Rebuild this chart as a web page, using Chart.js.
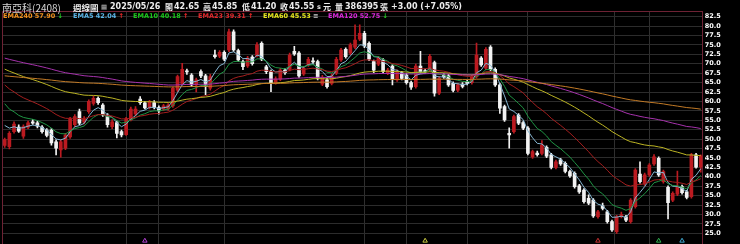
<!DOCTYPE html>
<html lang="zh-Hant">
<head>
<meta charset="utf-8">
<title>南亞科(2408) 週線圖</title>
<script src="https://cdn.jsdelivr.net/npm/chart.js@4.4.0/dist/chart.umd.js"></script>
<style>
  html, body { margin: 0; padding: 0; background: #000; overflow: hidden; }
  #wrap { position: relative; width: 740px; height: 244px; }
  #kline { position: absolute; left: 0; top: 0; }
  .t { position: absolute; white-space: nowrap; line-height: 1; color: #ececec; }
  .n { top: 1.5px; font: bold 8px "DejaVu Sans", sans-serif; }
  .c { top: 1px; font: bold 8px "Noto Sans CJK TC", sans-serif; }
  .lg { top: 12px; font: bold 6.5px "DejaVu Sans", sans-serif; }
  .up { color: #ff2a2a; }
  .dn { color: #22d022; }
</style>
</head>
<body>
<div id="wrap">
  <canvas id="kline" width="740" height="244"></canvas>

  <span class="t" style="left:2px;top:0;font:10px 'Noto Sans CJK TC',sans-serif;color:#d4d4d4">南亞科(2408)</span>
  <span class="t c" style="left:73px;font-size:8.5px">週線圖</span>
  <span class="t n" style="left:101px;color:#bbb;font-size:6.5px;top:2.5px">▦</span>
  <span class="t n" style="left:110px">2025/05/26</span>
  <span class="t c" style="left:165px">開</span><span class="t n" style="left:174px">42.65</span>
  <span class="t c" style="left:203px">高</span><span class="t n" style="left:212px">45.85</span>
  <span class="t c" style="left:242px">低</span><span class="t n" style="left:251px">41.20</span>
  <span class="t c" style="left:280px">收</span><span class="t n" style="left:289px">45.55</span>
  <span class="t n" style="left:317px;font-size:6.5px;top:3px">s</span><span class="t c" style="left:323px">元</span>
  <span class="t c" style="left:335px">量</span><span class="t n" style="left:345px">386395</span>
  <span class="t c" style="left:380px">張</span>
  <span class="t n" style="left:391px">+3.00 (+7.05%)</span>

  <span class="t lg" style="left:3px;color:#f0901e">EMA240 57.90 <span class="dn">↓</span></span>
  <span class="t lg" style="left:73px;color:#5ab4e6">EMA5 42.04 <span class="up">↑</span></span>
  <span class="t lg" style="left:133px;color:#1cc81c">EMA10 40.18 <span class="up">↑</span></span>
  <span class="t lg" style="left:198px;color:#e0282c">EMA23 39.31 <span class="up">↑</span></span>
  <span class="t lg" style="left:263px;color:#e6e61e">EMA60 45.53 <span style="color:#ccc">≡</span></span>
  <span class="t lg" style="left:328px;color:#d828d8">EMA120 52.75 <span class="dn">↓</span></span>
</div>

<script>
// weekly candles, oldest first (150 weeks up to 2025/05/26)
const opens = [
  48.3, 48, 52, 53.2, 50.8, 53.2, 54.6, 54.3, 53.2, 52.4,
  52.4, 49.3, 47.1, 47.6, 50.6, 53.8, 57.3, 54.5, 57.3, 59.5,
  60.8, 59, 56.4, 53.3, 54.4, 52, 51.2, 55.1, 56.7, 60.6,
  59.6, 58.4, 59.7, 58.4, 58, 58, 58.8, 63, 64.8, 68.1,
  67, 64.4, 67.9, 66.8, 63.5, 72.3, 72, 73, 73.7, 78.5,
  73.5, 70.6, 69.4, 71.8, 72.1, 75.4, 69.2, 67.9, 65, 65.9,
  68.3, 68.5, 73.3, 72.8, 67.3, 69.7, 70.8, 70.6, 64.6, 65.7,
  64.8, 67.5, 71, 73.8, 72.8, 74.4, 76.5, 78.1, 75.4, 70.6,
  69.9, 71, 67.5, 69.4, 65.7, 67.6, 67, 65, 63.9, 69.4,
  68.2, 68.5, 70.3, 62.2, 67, 66.8, 64.8, 63, 64.6, 65.2,
  65, 66.6, 71.5, 68.8, 74.4, 68.5, 64.4, 58.6, 51.5, 52,
  56.4, 54.4, 52.9, 45.3, 46.3, 46.2, 47.8, 45.8, 42.5, 44.5,
  43.6, 41.4, 40.9, 37.6, 36.5, 34.3, 33.8, 29.4, 32.3, 30.7,
  28.1, 25.4, 29.5, 29.4, 28.1, 32.1, 40.7, 38.1, 40.5, 43.4,
  44.9, 38.7, 37.2, 33.8, 35.4, 37.4, 36, 34.7, 45.8, 42.65
];
const highs = [
  50.3, 52, 54.6, 53.8, 53.8, 54.8, 55.2, 54.8, 53.6, 52.8,
  52.8, 49.8, 49.8, 51.5, 55.8, 56.5, 58, 56, 60.4, 61.4,
  61.2, 59.4, 56.8, 55.2, 54.8, 52.4, 55.8, 58.5, 58.6, 61.3,
  60, 60.3, 60.2, 58.8, 59.2, 59.4, 63.9, 67, 70.1, 68.6,
  67.4, 66.2, 68.4, 67.2, 67.2, 73.6, 73.5, 73.4, 79.2, 79,
  73.9, 71, 72, 72.2, 75.6, 75.8, 69.6, 68.3, 66.5, 68.8,
  68.7, 72.8, 74.6, 73.2, 69.3, 71.7, 71.6, 71, 66.9, 66.1,
  67.3, 71.7, 74.1, 74.2, 75.5, 80.3, 80.3, 78.6, 75.8, 71,
  72, 71.4, 68.8, 69.8, 68.4, 68, 67.4, 65.4, 69.9, 73.3,
  68.6, 72.5, 70.7, 66.6, 67.4, 67.2, 65.2, 64.8, 65, 65.6,
  67, 75.5, 71.9, 74.3, 74.8, 68.9, 64.8, 59, 53, 56.4,
  56.8, 54.8, 53.3, 47.1, 46.8, 49.6, 48.2, 46.2, 44.4, 44.9,
  44, 41.8, 41.3, 38, 36.9, 35.2, 34.2, 31.1, 33, 31.1,
  28.5, 29.8, 30.6, 29.8, 34.2, 42.2, 44, 41, 43.5, 45.9,
  45.3, 41.8, 37.6, 36, 41.5, 37.8, 36.4, 46.2, 46.2, 45.85
];
const lows = [
  47.8, 47.4, 51.6, 51.8, 50.2, 52.8, 53.9, 53, 51.6, 50.6,
  48.4, 45.8, 45.2, 47.2, 50.2, 53.3, 53.8, 54, 56.8, 59,
  59.2, 56, 53.2, 52.8, 50.3, 50.6, 51, 54.8, 56.2, 59.2,
  58, 58, 58, 56.6, 57.6, 57.6, 58.4, 62.6, 64.4, 67.2,
  64, 62.5, 66.3, 61.8, 63, 71.5, 71.6, 70.8, 73.2, 73.3,
  70.6, 68.4, 69, 69.6, 71.8, 70.8, 67.4, 62.6, 64.6, 65.5,
  67.2, 68.1, 72.2, 66.4, 66.9, 69.3, 70.1, 65.7, 64.2, 63.5,
  64.4, 67.1, 70.6, 71.5, 72.4, 74, 76.1, 74.3, 70.8, 67.6,
  69.5, 67.5, 67.1, 64.4, 65.3, 65.7, 64.6, 63.2, 63.5, 67.5,
  67.5, 68.1, 61.4, 61.8, 66.1, 64, 62.5, 62.6, 63.6, 64.4,
  64.6, 66.2, 69.3, 68.4, 68.1, 64, 56.8, 54.7, 47.6, 51.6,
  53.8, 52.5, 45.8, 44.9, 45.5, 45.8, 45.1, 42.1, 42.1, 43,
  41, 39.8, 37, 35.6, 33, 32.6, 29.2, 29, 31.2, 27.7,
  25.5, 25, 29.1, 28.1, 27.7, 31.7, 38.3, 37.7, 40.1, 43,
  40.1, 38.3, 28.8, 33.4, 35, 35.4, 34.1, 34.3, 42.3, 41.2
];
const closes = [
  49.9, 51.5, 54, 52.1, 53.3, 54.3, 54.2, 53.4, 52, 51,
  49, 47.6, 49.3, 51.1, 55.3, 56, 54.2, 55.3, 60, 60.8,
  59.7, 56.4, 53.8, 54.6, 51.5, 51.1, 55.4, 58, 58, 59.7,
  58.3, 59.9, 58.4, 57.5, 58.8, 59, 63.5, 66.6, 68.5, 67.8,
  64.4, 65.7, 66.8, 63.9, 66.6, 71.9, 73, 71.2, 78.5, 73.7,
  71, 69.2, 71.5, 70, 75, 71.2, 67.9, 65, 66, 68.3,
  67.6, 72.3, 72.6, 66.8, 68.8, 71.2, 70.5, 66.1, 66.4, 63.9,
  66.8, 71.2, 73.6, 71.9, 75, 76.3, 78.1, 74.7, 71.2, 68.3,
  71.5, 67.9, 68.3, 65.9, 67.9, 66.1, 65, 63.8, 69.4, 67.9,
  67.9, 72, 62.2, 66.1, 66.5, 64.4, 62.9, 64.4, 64, 64.8,
  66.6, 72.3, 69.7, 73.8, 68.5, 64.4, 58.2, 55.1, 51.1, 56,
  54.2, 52.9, 46.2, 46.7, 45.9, 48.4, 45.5, 42.5, 44, 43.4,
  41.4, 40.2, 37.4, 36, 33.4, 33, 29.6, 30.7, 31.6, 28.1,
  25.9, 29.4, 30, 28.5, 33.8, 41.8, 38.7, 40.5, 43.1, 45.3,
  40.5, 41.4, 33.1, 35.6, 37.2, 35.8, 34.5, 45.8, 42.55, 45.55
];

// moving averages
const ema5 = [
  53.63, 52.92, 53.28, 52.89, 53.03, 53.45, 53.70, 53.60, 53.07, 52.38,
  51.25, 50.03, 49.79, 50.23, 51.92, 53.28, 53.59, 54.16, 56.11, 57.67,
  58.35, 57.70, 56.40, 55.80, 54.37, 53.28, 53.99, 55.33, 56.22, 57.38,
  57.69, 58.43, 58.42, 58.11, 58.34, 58.56, 60.21, 62.34, 64.39, 65.53,
  65.15, 65.33, 65.82, 65.18, 65.65, 67.73, 69.49, 70.06, 72.87, 73.15,
  72.43, 71.35, 71.40, 70.93, 72.29, 71.93, 70.58, 68.72, 67.81, 67.97,
  67.85, 69.33, 70.42, 69.21, 69.07, 69.78, 70.02, 68.71, 67.94, 66.59,
  66.66, 68.17, 69.98, 70.62, 72.08, 73.49, 75.03, 74.92, 73.68, 71.89,
  71.76, 70.47, 69.75, 68.47, 68.28, 67.55, 66.70, 65.73, 66.95, 67.27,
  67.48, 68.99, 66.73, 66.52, 66.51, 65.81, 64.84, 64.69, 64.46, 64.57,
  65.25, 67.60, 68.30, 70.13, 69.59, 67.86, 64.64, 61.46, 58.01, 57.34,
  56.29, 55.16, 52.17, 50.35, 48.87, 48.71, 47.64, 45.93, 45.29, 44.66,
  43.57, 42.45, 40.77, 39.18, 37.25, 35.83, 33.75, 32.73, 32.35, 30.93,
  29.25, 29.30, 29.53, 29.19, 30.73, 34.42, 35.85, 37.40, 39.30, 41.30,
  41.03, 41.15, 38.47, 37.51, 37.41, 36.87, 36.08, 39.32, 40.40, 42.12
];
const ema10 = [
  59.39, 57.96, 57.24, 56.31, 55.76, 55.49, 55.26, 54.92, 54.39, 53.77,
  52.90, 51.94, 51.46, 51.39, 52.10, 52.81, 53.06, 53.47, 54.66, 55.78,
  56.49, 56.47, 55.99, 55.74, 54.97, 54.27, 54.47, 55.11, 55.64, 56.38,
  56.73, 57.30, 57.50, 57.50, 57.74, 57.97, 58.98, 60.36, 61.84, 62.92,
  63.19, 63.65, 64.22, 64.16, 64.61, 65.93, 67.22, 67.94, 69.86, 70.56,
  70.64, 70.38, 70.58, 70.48, 71.30, 71.28, 70.67, 69.64, 68.98, 68.85,
  68.63, 69.29, 69.90, 69.33, 69.24, 69.59, 69.76, 69.09, 68.60, 67.75,
  67.57, 68.23, 69.21, 69.70, 70.66, 71.69, 72.85, 73.19, 72.83, 72.00,
  71.91, 71.18, 70.66, 69.79, 69.45, 68.84, 68.14, 67.35, 67.72, 67.76,
  67.78, 68.55, 67.40, 67.16, 67.04, 66.56, 65.90, 65.62, 65.33, 65.23,
  65.48, 66.72, 67.26, 68.45, 68.46, 67.72, 65.99, 64.01, 61.66, 60.63,
  59.46, 58.27, 56.08, 54.37, 52.83, 52.02, 50.84, 49.32, 48.35, 47.45,
  46.35, 45.23, 43.81, 42.39, 40.76, 39.35, 37.58, 36.33, 35.47, 34.13,
  32.63, 32.04, 31.67, 31.09, 31.58, 33.44, 34.40, 35.51, 36.89, 38.42,
  38.80, 39.27, 38.15, 37.69, 37.60, 37.27, 36.77, 38.41, 39.16, 40.32
];
const ema23 = [
  64.38, 63.31, 62.53, 61.66, 60.96, 60.41, 59.89, 59.35, 58.74, 58.09,
  57.34, 56.53, 55.92, 55.52, 55.50, 55.54, 55.43, 55.42, 55.80, 56.22,
  56.51, 56.50, 56.28, 56.14, 55.75, 55.36, 55.37, 55.59, 55.79, 56.11,
  56.30, 56.60, 56.75, 56.81, 56.98, 57.15, 57.67, 58.42, 59.26, 59.97,
  60.34, 60.78, 61.28, 61.50, 61.93, 62.76, 63.61, 64.24, 65.43, 66.12,
  66.52, 66.75, 67.14, 67.38, 68.02, 68.28, 68.25, 67.98, 67.81, 67.85,
  67.83, 68.20, 68.57, 68.42, 68.45, 68.68, 68.83, 68.61, 68.42, 68.05,
  67.94, 68.21, 68.66, 68.93, 69.44, 70.01, 70.68, 71.02, 71.03, 70.80,
  70.86, 70.61, 70.42, 70.04, 69.86, 69.55, 69.17, 68.72, 68.78, 68.71,
  68.64, 68.92, 68.36, 68.17, 68.03, 67.73, 67.33, 67.08, 66.83, 66.66,
  66.65, 67.12, 67.34, 67.88, 67.93, 67.63, 66.85, 65.87, 64.64, 63.92,
  63.11, 62.26, 60.92, 59.74, 58.59, 57.74, 56.72, 55.53, 54.57, 53.64,
  52.62, 51.58, 50.40, 49.20, 47.89, 46.65, 45.23, 44.02, 42.98, 41.74,
  40.42, 39.50, 38.71, 37.86, 37.52, 37.88, 37.95, 38.16, 38.57, 39.13,
  39.24, 39.42, 38.90, 38.62, 38.50, 38.28, 37.96, 38.61, 38.94, 39.49
];
const ema60 = [
  68.57, 68.01, 67.55, 67.04, 66.59, 66.19, 65.80, 65.39, 64.95, 64.49,
  63.98, 63.45, 62.98, 62.59, 62.35, 62.15, 61.89, 61.67, 61.62, 61.59,
  61.53, 61.36, 61.11, 60.90, 60.59, 60.28, 60.12, 60.05, 59.98, 59.97,
  59.92, 59.92, 59.87, 59.79, 59.76, 59.73, 59.86, 60.08, 60.35, 60.60,
  60.72, 60.89, 61.08, 61.17, 61.35, 61.70, 62.07, 62.37, 62.90, 63.25,
  63.50, 63.69, 63.95, 64.15, 64.50, 64.72, 64.83, 64.83, 64.87, 64.98,
  65.07, 65.30, 65.54, 65.59, 65.69, 65.87, 66.02, 66.03, 66.04, 65.97,
  66.00, 66.17, 66.41, 66.59, 66.87, 67.18, 67.54, 67.77, 67.88, 67.90,
  68.02, 68.02, 68.02, 67.95, 67.95, 67.89, 67.80, 67.67, 67.72, 67.73,
  67.74, 67.88, 67.69, 67.64, 67.60, 67.50, 67.35, 67.25, 67.14, 67.07,
  67.05, 67.22, 67.30, 67.52, 67.55, 67.45, 67.14, 66.75, 66.23, 65.90,
  65.51, 65.10, 64.48, 63.90, 63.31, 62.82, 62.25, 61.60, 61.03, 60.45,
  59.83, 59.18, 58.47, 57.73, 56.93, 56.15, 55.28, 54.47, 53.72, 52.88,
  52.00, 51.26, 50.56, 49.84, 49.31, 49.06, 48.72, 48.45, 48.28, 48.18,
  47.93, 47.71, 47.23, 46.85, 46.54, 46.18, 45.80, 45.80, 45.69, 45.60
];
const ema120 = [
  71.49, 71.16, 70.87, 70.56, 70.28, 70.01, 69.75, 69.48, 69.19, 68.89,
  68.56, 68.22, 67.90, 67.62, 67.42, 67.23, 67.02, 66.82, 66.71, 66.61,
  66.50, 66.33, 66.12, 65.93, 65.69, 65.45, 65.29, 65.17, 65.05, 64.96,
  64.85, 64.77, 64.66, 64.55, 64.45, 64.36, 64.35, 64.39, 64.45, 64.51,
  64.51, 64.53, 64.57, 64.55, 64.59, 64.71, 64.85, 64.95, 65.18, 65.32,
  65.41, 65.47, 65.57, 65.65, 65.80, 65.89, 65.92, 65.91, 65.91, 65.95,
  65.98, 66.08, 66.19, 66.20, 66.24, 66.32, 66.39, 66.39, 66.39, 66.35,
  66.36, 66.44, 66.56, 66.65, 66.78, 66.94, 67.12, 67.25, 67.31, 67.33,
  67.40, 67.41, 67.42, 67.40, 67.40, 67.38, 67.34, 67.28, 67.32, 67.33,
  67.34, 67.41, 67.33, 67.31, 67.30, 67.25, 67.18, 67.13, 67.08, 67.04,
  67.03, 67.12, 67.16, 67.27, 67.29, 67.24, 67.09, 66.90, 66.63, 66.46,
  66.26, 66.04, 65.71, 65.39, 65.07, 64.80, 64.48, 64.11, 63.78, 63.44,
  63.08, 62.70, 62.28, 61.85, 61.38, 60.91, 60.39, 59.90, 59.43, 58.91,
  58.37, 57.89, 57.43, 56.95, 56.57, 56.32, 56.03, 55.78, 55.57, 55.40,
  55.15, 54.92, 54.56, 54.25, 53.97, 53.67, 53.35, 53.23, 53.05, 52.80
];
const ema240 = [
  66.80, 66.67, 66.57, 66.45, 66.34, 66.24, 66.14, 66.03, 65.92, 65.79,
  65.66, 65.51, 65.37, 65.25, 65.17, 65.09, 65.00, 64.92, 64.88, 64.85,
  64.80, 64.73, 64.64, 64.56, 64.45, 64.34, 64.27, 64.21, 64.16, 64.12,
  64.08, 64.04, 63.99, 63.94, 63.90, 63.86, 63.85, 63.88, 63.91, 63.95,
  63.95, 63.97, 63.99, 63.99, 64.01, 64.08, 64.15, 64.21, 64.33, 64.41,
  64.46, 64.50, 64.56, 64.60, 64.69, 64.74, 64.77, 64.77, 64.78, 64.81,
  64.83, 64.90, 64.96, 64.97, 65.01, 65.06, 65.10, 65.11, 65.12, 65.11,
  65.13, 65.18, 65.25, 65.30, 65.38, 65.47, 65.58, 65.65, 65.70, 65.72,
  65.77, 65.79, 65.81, 65.81, 65.83, 65.83, 65.82, 65.81, 65.84, 65.85,
  65.87, 65.92, 65.89, 65.89, 65.90, 65.89, 65.86, 65.85, 65.84, 65.83,
  65.83, 65.89, 65.92, 65.98, 66.00, 65.99, 65.93, 65.84, 65.71, 65.63,
  65.54, 65.43, 65.27, 65.12, 64.96, 64.82, 64.66, 64.48, 64.31, 64.13,
  63.95, 63.75, 63.53, 63.30, 63.05, 62.80, 62.53, 62.26, 62.01, 61.73,
  61.43, 61.17, 60.91, 60.64, 60.42, 60.26, 60.08, 59.92, 59.78, 59.66,
  59.50, 59.35, 59.13, 58.94, 58.76, 58.57, 58.37, 58.26, 58.13, 57.95
];

// price axis ticks
const yTicks = [25, 27.5, 30, 32.5, 35, 37.5, 40, 42.5, 45, 47.5, 50, 52.5, 55,
  57.5, 60, 62.5, 65, 67.5, 70, 72.5, 75, 77.5, 80, 82.5];
const yTickLabels = ['25.0', '27.5', '30.0', '32.5', '35.0', '37.5', '40.0', '42.5',
  '45.0', '47.5', '50.0', '52.5', '55.0', '57.5', '60.0', '62.5', '65.0', '67.5',
  '70.0', '72.5', '75.0', '77.5', '80.0', '82.5'];
// weeks where the vertical grid lines sit
const gridWeeks = [26, 33, 47, 77, 86, 99, 112, 130.5, 138];
// signal marks along the bottom
const markWeeks = [30, 90, 127, 140, 145];
const markColors = ['#b040d0', '#c8c840', '#c83030', '#30b050', '#40a8d0'];
const markLevel = 23;

const UP = '#bb1a20', DOWN = '#f2f2f2';
const candleColors = closes.map((c, i) => c >= opens[i] ? UP : DOWN);

const bodies = closes.map((c, i) => ({x: i, y: [opens[i], c]}));
const wicks = closes.map((c, i) => ({x: i, y: [lows[i], highs[i]]}));
const pts = arr => arr.map((v, i) => ({x: i, y: v}));

const emaLine = (label, arr, color) => ({
    type: 'line', label, data: pts(arr), borderColor: color, borderWidth: 1,
    pointRadius: 0, tension: 0, fill: false, order: 1
});

const frame = {
    id: 'frame',
    afterDraw(chart) {
        const {ctx, chartArea: a} = chart;
        ctx.save();
        ctx.strokeStyle = '#6e2234';
        ctx.lineWidth = 1;
        ctx.beginPath();
        ctx.moveTo(a.left + 0.5, a.bottom);
        ctx.lineTo(a.left + 0.5, a.top + 0.5);
        ctx.lineTo(a.right, a.top + 0.5);
        ctx.stroke();
        ctx.restore();
    }
};

new Chart(document.getElementById('kline'), {
    type: 'bar',
    data: {
        datasets: [
            emaLine('EMA240', ema240, '#c27a26'),
            emaLine('EMA120', ema120, '#a632ac'),
            emaLine('EMA60', ema60, '#bcb424'),
            emaLine('EMA23', ema23, '#a41e1e'),
            emaLine('EMA10', ema10, '#1f9444'),
            emaLine('EMA5', ema5, '#86b6d2'),
            {
                label: 'wick', data: wicks, backgroundColor: candleColors,
                barThickness: 1, grouped: false, order: 3
            },
            {
                label: 'body', data: bodies, backgroundColor: candleColors,
                barThickness: 3, minBarLength: 1, grouped: false, order: 2
            },
            {
                type: 'scatter', label: 'mark',
                data: markWeeks.map(w => ({x: w, y: markLevel})),
                pointStyle: 'triangle', pointRadius: 2.6, borderWidth: 1,
                pointBorderColor: markColors, pointBackgroundColor: 'rgba(0,0,0,0)',
                order: 0
            }
        ]
    },
    options: {
        responsive: false,
        animation: false,
        devicePixelRatio: 1,
        layout: {autoPadding: false, padding: {top: 11, left: 2, right: 0, bottom: 0}},
        plugins: {legend: {display: false}, tooltip: {enabled: false}},
        scales: {
            x: {
                type: 'linear', min: -0.58, max: 149.42, offset: false,
                afterBuildTicks: axis => { axis.ticks = gridWeeks.map(v => ({value: v})); },
                afterFit: axis => { axis.height = 0; axis.paddingLeft = 0; axis.paddingRight = 0; },
                ticks: {display: false},
                grid: {color: '#2f2f2f', drawTicks: false, offset: false},
                border: {display: false}
            },
            y: {
                type: 'linear', position: 'right', min: 22.16, max: 84.0,
                beginAtZero: false,
                afterBuildTicks: axis => { axis.ticks = yTicks.map(v => ({value: v})); },
                afterFit: axis => { axis.width = 37.3; axis.paddingTop = 0; axis.paddingBottom = 0; },
                ticks: {
                    callback: (v, i) => yTickLabels[i],
                    autoSkip: false,
                    color: '#ffffff', padding: 2,
                    font: {family: 'DejaVu Sans', size: 6.5, weight: 'bold'}
                },
                grid: {color: '#2c2c2c', drawTicks: false},
                border: {color: '#6e2234', width: 1}
            }
        }
    },
    plugins: [frame]
});
</script>
</body>
</html>
